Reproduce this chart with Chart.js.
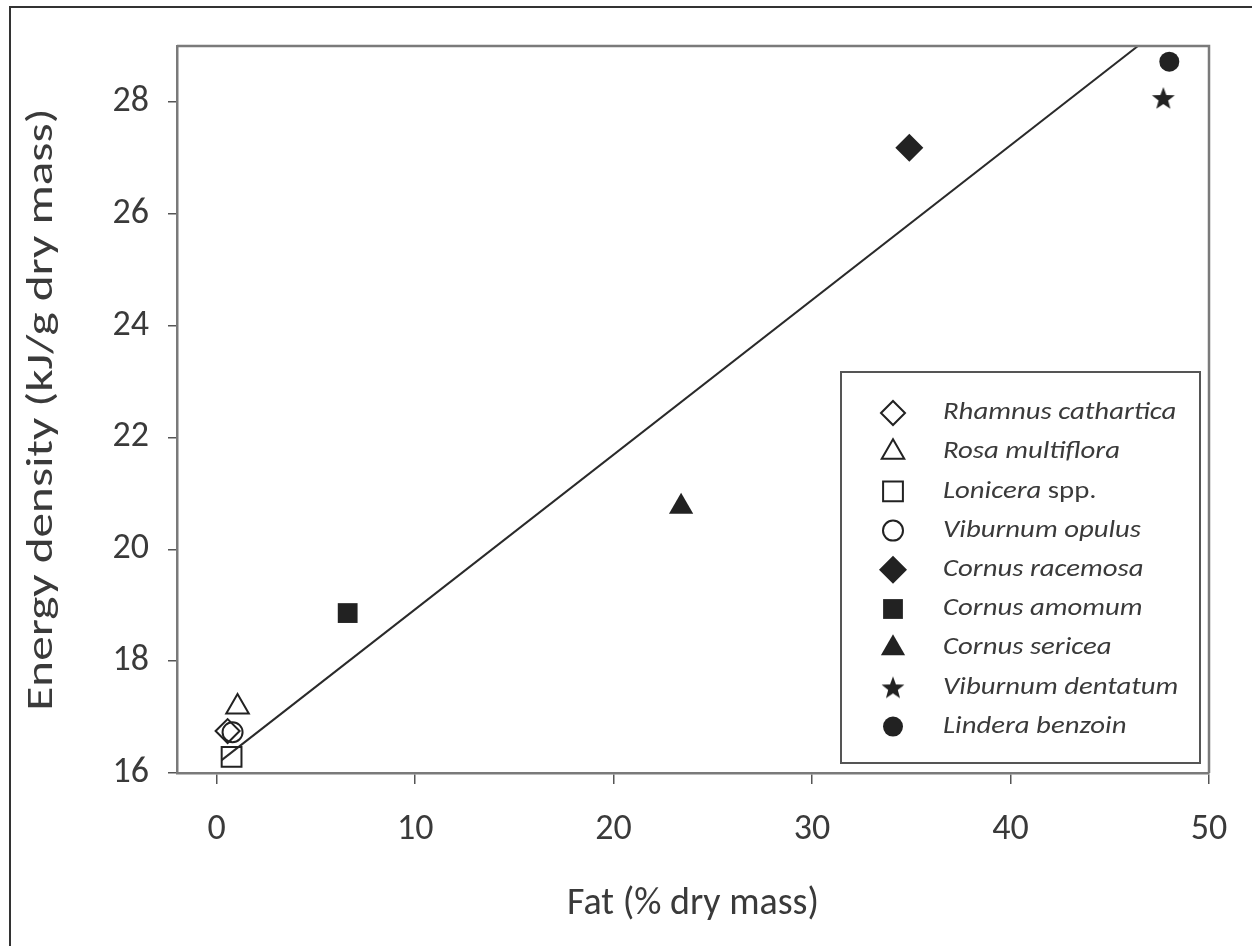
<!DOCTYPE html>
<html>
<head>
<meta charset="utf-8">
<script src="https://cdn.jsdelivr.net/npm/chart.js@4.4.0/dist/chart.umd.min.js"></script>
<style>
  html, body { margin: 0; padding: 0; background: #fff; }
  #wrap { position: relative; width: 1252px; height: 946px; overflow: hidden; }
</style>
</head>
<body>
<div id="wrap"><canvas id="chart" width="1252" height="946"></canvas></div>
<script>
// values
const species = ['Rhamnus cathartica', 'Rosa multiflora', 'Lonicera spp.', 'Viburnum opulus',
  'Cornus racemosa', 'Cornus amomum', 'Cornus sericea', 'Viburnum dentatum', 'Lindera benzoin'];
const fat = [0.55, 1.05, 0.75, 0.8, 34.9, 6.6, 23.4, 47.7, 48.0];
const energy = [16.75, 17.18, 16.29, 16.73, 27.18, 18.86, 20.76, 28.07, 28.72];
const markers = ['rectRot', 'triangle', 'rect', 'circle', 'rectRot', 'rect', 'triangle', 'star', 'circle'];
const filled = [false, false, false, false, true, true, true, true, true];
const markerSize = [12, 13, 14, 10, 14, 14, 14, 12, 10];

// regression line end points
const fitX = [0.25, 46.42];
const fitY = [16.23, 29];

const xTicks = [0, 10, 20, 30, 40, 50];
const yTicks = [16, 18, 20, 22, 24, 26, 28];

const xTitle = 'Fat (% dry mass)';
const yTitle = 'Energy density (kJ/g dry mass)';

const ink = '#222';
const textColor = '#3a3a3a';
const axisColor = '#7a7a7a';
const fontFamily = 'Carlito, Lato, sans-serif';

// five point star, Chart.js only has the asterisk kind
function makeStar(r) {
  const c = document.createElement('canvas');
  c.width = c.height = r * 2 + 2;
  const g = c.getContext('2d');
  g.fillStyle = ink;
  g.beginPath();
  for (let i = 0; i < 10; i++) {
    const rad = i % 2 ? r * 0.42 : r;
    const ang = -Math.PI / 2 + i * Math.PI / 5;
    g.lineTo(c.width / 2 + rad * Math.cos(ang), c.height / 2 + 1 + rad * Math.sin(ang));
  }
  g.closePath();
  g.fill();
  return c;
}
const star = makeStar(12);

function styleFor(i) {
  return markers[i] === 'star' ? star : markers[i];
}

const datasets = species.map((name, i) => ({
  type: 'scatter',
  label: name,
  data: [{ x: fat[i], y: energy[i] }],
  pointStyle: styleFor(i),
  pointRadius: markerSize[i],
  pointBorderColor: ink,
  pointBackgroundColor: filled[i] ? ink : 'rgba(0,0,0,0)',
  pointBorderWidth: filled[i] ? 0 : 2
}));

datasets.push({
  type: 'line',
  label: 'fit',
  data: fitX.map((x, i) => ({ x: x, y: fitY[i] })),
  borderColor: '#2a2a2a',
  borderWidth: 2,
  pointRadius: 0,
  fill: false
});

// frame, plot box, y title and the boxed legend
const decor = {
  id: 'decor',
  beforeDraw(chart) {
    const ctx = chart.ctx;
    ctx.save();
    ctx.fillStyle = '#fff';
    ctx.fillRect(0, 0, chart.width, chart.height);
    ctx.strokeStyle = '#333';
    ctx.lineWidth = 2;
    ctx.strokeRect(10, 7, chart.width + 20, chart.height + 20);
    ctx.restore();
  },
  afterDraw(chart) {
    const { ctx, chartArea: a } = chart;
    ctx.save();
    ctx.strokeStyle = axisColor;
    ctx.lineWidth = 2.5;
    ctx.beginPath();
    ctx.moveTo(a.left, a.top);
    ctx.lineTo(a.right, a.top);
    ctx.lineTo(a.right, a.bottom);
    ctx.stroke();

    // y title, the scanned original is stretched along its length
    ctx.save();
    ctx.translate(43, (a.top + a.bottom) / 2);
    ctx.rotate(-Math.PI / 2);
    ctx.scale(1.33, 1);
    ctx.font = '37px ' + fontFamily;
    ctx.fillStyle = textColor;
    ctx.textAlign = 'center';
    ctx.textBaseline = 'middle';
    ctx.fillText(yTitle, 0, 0);
    ctx.restore();

    // legend
    const bx = a.right - 368, by = a.bottom - 401, bw = 359, bh = 391;
    ctx.fillStyle = '#fff';
    ctx.fillRect(bx, by, bw, bh);
    ctx.strokeStyle = '#555';
    ctx.lineWidth = 2;
    ctx.strokeRect(bx, by, bw, bh);

    const mx = bx + 52, tx = bx + 102;
    species.forEach((name, i) => {
      const y = by + 41 + i * 39.2;
      ctx.fillStyle = filled[i] ? ink : 'rgba(0,0,0,0)';
      ctx.strokeStyle = ink;
      ctx.lineWidth = filled[i] ? 0 : 2;
      Chart.helpers.drawPoint(ctx, {
        pointStyle: styleFor(i),
        radius: markerSize[i],
        rotation: 0,
        borderWidth: filled[i] ? 0 : 2
      }, mx, y);

      let genus = name, rest = '';
      if (name.endsWith(' spp.')) {
        genus = name.slice(0, -5);
        rest = ' spp.';
      }
      ctx.save();
      ctx.translate(tx, y);
      ctx.scale(1.15, 1);
      ctx.fillStyle = textColor;
      ctx.textBaseline = 'middle';
      ctx.textAlign = 'left';
      ctx.font = 'italic 25px ' + fontFamily;
      ctx.fillText(genus, 0, 0);
      if (rest) {
        const w = ctx.measureText(genus).width;
        ctx.font = '25px ' + fontFamily;
        ctx.fillText(rest, w, 0);
      }
      ctx.restore();
    });
    ctx.restore();
  }
};

new Chart(document.getElementById('chart'), {
  data: { datasets: datasets },
  options: {
    responsive: false,
    animation: false,
    layout: { padding: { top: 46, right: 43, left: 0, bottom: 0 } },
    plugins: {
      legend: { display: false },
      tooltip: { enabled: false }
    },
    scales: {
      x: {
        type: 'linear',
        min: -2,
        max: 50,
        afterBuildTicks: s => { s.ticks = xTicks.map(v => ({ value: v })); },
        afterFit: s => { s.height = 173; },
        grid: { drawOnChartArea: false, drawTicks: true, tickLength: 11, color: '#555', lineWidth: 1.5 },
        border: { color: axisColor, width: 2.5 },
        ticks: { color: textColor, font: { family: fontFamily, size: 36 }, padding: 24, maxRotation: 0 },
        title: {
          display: true,
          text: xTitle,
          color: textColor,
          font: { family: fontFamily, size: 38 },
          padding: { top: 0, bottom: 19 }
        }
      },
      y: {
        type: 'linear',
        min: 16,
        max: 29,
        afterBuildTicks: s => { s.ticks = yTicks.map(v => ({ value: v })); },
        afterFit: s => { s.width = 177; },
        grid: { drawOnChartArea: false, drawTicks: true, tickLength: 9, color: '#555', lineWidth: 1.5 },
        border: { color: axisColor, width: 2.5 },
        ticks: { color: textColor, font: { family: fontFamily, size: 36 }, padding: 19 },
        title: { display: false }
      }
    }
  },
  plugins: [decor]
});
</script>
</body>
</html>
